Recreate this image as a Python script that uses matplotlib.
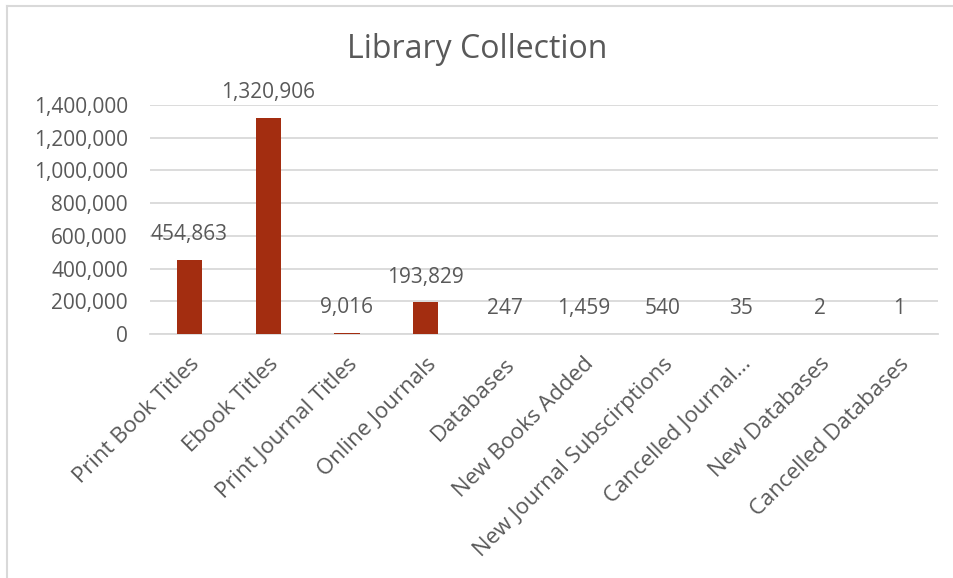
import matplotlib.pyplot as plt
from matplotlib.lines import Line2D

categories = ['Print Book Titles', 'Ebook Titles', 'Print Journal Titles',
              'Online Journals', 'Databases', 'New Books Added',
              'New Journal Subscirptions', 'Cancelled Journal...',
              'New Databases', 'Cancelled Databases']
values = [454863, 1320906, 9016, 193829, 247, 1459, 540, 35, 2, 1]
yticks = [0, 200000, 400000, 600000, 800000, 1000000, 1200000, 1400000]

bar_color = '#A32D10'
text_color = '#595959'
grid_color = '#D9D9D9'

plt.rcParams['font.family'] = ['Open Sans', 'DejaVu Sans']

fig = plt.figure(figsize=(9.54, 5.78), dpi=100)
ax = fig.add_axes([150 / 954, 1 - 334 / 578, (938 - 150) / 954, (334 - 105) / 578])

x = list(range(len(categories)))
ax.bar(x, values, width=0.32, color=bar_color, zorder=3)

for xi, v in zip(x, values):
    ax.annotate(f'{v:,}', (xi, v), xytext=(0, 18), textcoords='offset points',
                ha='center', va='center', fontsize=15, color=text_color)

ax.set_xlim(-0.5, len(categories) - 0.5)
ax.set_ylim(0, 1400000)
ax.set_yticks(yticks)
ax.set_yticklabels([f'{t:,}' for t in yticks], fontsize=15, color=text_color)
ax.yaxis.grid(True, color=grid_color, linewidth=1.3, zorder=0)
ax.tick_params(axis='y', length=0, pad=16)

ax.set_xticks(x)
ax.set_xticklabels(categories, rotation=45, ha='right', rotation_mode='anchor',
                   fontsize=16, color=text_color)
ax.tick_params(axis='x', length=0, pad=14)

for side in ['top', 'right', 'left']:
    ax.spines[side].set_visible(False)
ax.spines['bottom'].set_color(grid_color)
ax.spines['bottom'].set_linewidth(1.3)

fig.text(0.5, 1 - 50 / 578, 'Library Collection', ha='center', va='center',
         fontsize=23, color=text_color)

# chart border (top and left visible)
fig.add_artist(Line2D([7 / 954, 7 / 954], [0, 1 - 6 / 578], color=grid_color, linewidth=1.5))
fig.add_artist(Line2D([7 / 954, 1], [1 - 6 / 578, 1 - 6 / 578], color=grid_color, linewidth=1.5))

fig.savefig('out.png', dpi=100, facecolor='white')
